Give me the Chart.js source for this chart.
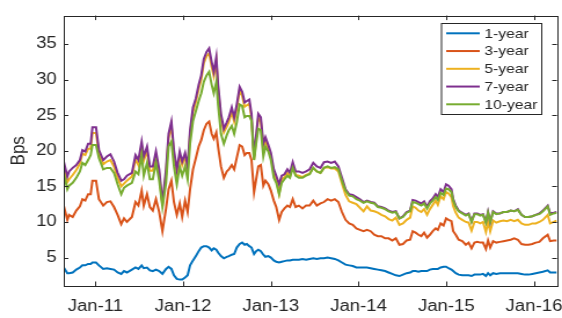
<!DOCTYPE html>
<html>
<head>
<meta charset="utf-8">
<script src="https://cdn.jsdelivr.net/npm/chart.js@4.4.1/dist/chart.umd.min.js"></script>
<style>
  html, body { margin: 0; padding: 0; background: #fff; overflow: hidden; }
  /* the reference is a little wider than tall text would suggest, so stretch horizontally */
  #myChart { display: block; transform: scaleX(1.1588); transform-origin: 0 0; }
</style>
</head>
<body>
<canvas id="myChart" width="485" height="318"></canvas>
<script>
// Dates as decimal years
var dates = [
  2010.640, 2010.681, 2010.701, 2010.742, 2010.783, 2010.824, 2010.853, 2010.885, 2010.918, 2010.947,
  2010.967, 2011.008, 2011.041, 2011.090, 2011.131, 2011.172, 2011.213, 2011.254, 2011.295, 2011.327,
  2011.360, 2011.417, 2011.458, 2011.491, 2011.528, 2011.552, 2011.589, 2011.622, 2011.655, 2011.691,
  2011.728, 2011.765, 2011.806, 2011.835, 2011.867, 2011.896, 2011.929, 2011.962, 2011.990, 2012.023,
  2012.052, 2012.080, 2012.113, 2012.146, 2012.178, 2012.207, 2012.236, 2012.268, 2012.297, 2012.326,
  2012.350, 2012.379, 2012.399, 2012.432, 2012.465, 2012.498, 2012.522, 2012.555, 2012.583, 2012.612,
  2012.645, 2012.674, 2012.702, 2012.727, 2012.755, 2012.780, 2012.809, 2012.833, 2012.858, 2012.886,
  2012.915, 2012.939, 2012.972, 2013.001, 2013.034, 2013.062, 2013.095, 2013.124, 2013.156, 2013.189,
  2013.218, 2013.250, 2013.283, 2013.320, 2013.361, 2013.402, 2013.443, 2013.484, 2013.525, 2013.566,
  2013.606, 2013.647, 2013.688, 2013.729, 2013.770, 2013.811, 2013.852, 2013.893, 2013.934, 2013.975,
  2014.016, 2014.057, 2014.097, 2014.138, 2014.179, 2014.220, 2014.261, 2014.302, 2014.343, 2014.384,
  2014.425, 2014.466, 2014.507, 2014.548, 2014.588, 2014.617, 2014.650, 2014.683, 2014.715, 2014.748,
  2014.781, 2014.813, 2014.846, 2014.879, 2014.904, 2014.936, 2014.969, 2014.998, 2015.026, 2015.059,
  2015.079, 2015.108, 2015.141, 2015.182, 2015.223, 2015.255, 2015.288, 2015.321, 2015.354, 2015.386,
  2015.419, 2015.452, 2015.476, 2015.501, 2015.534, 2015.570, 2015.611, 2015.652, 2015.693, 2015.734,
  2015.775, 2015.816, 2015.857, 2015.898, 2015.939, 2015.980, 2016.020, 2016.061, 2016.102, 2016.156,
  2016.184, 2016.225, 2016.258
];

var oneYear = [
  3.6, 2.8, 2.8, 2.9, 3.3, 3.6, 3.9, 3.9, 4.1, 4.1,
  4.3, 4.3, 3.9, 3.4, 3.5, 3.4, 3.3, 2.9, 2.7, 3.1,
  2.9, 3.3, 3.6, 3.4, 3.9, 3.5, 3.6, 3.2, 3.1, 3.3,
  3.1, 2.7, 3.4, 3.7, 3.4, 2.5, 2.0, 1.9, 1.9, 2.2,
  2.5, 3.9, 4.6, 5.2, 5.9, 6.4, 6.6, 6.6, 6.4, 6.0,
  6.3, 6.1, 5.7, 5.2, 4.9, 5.1, 5.2, 5.4, 5.5, 6.4,
  6.9, 7.1, 6.8, 6.9, 6.6, 6.4, 5.5, 5.9, 6.1, 5.9,
  5.4, 5.1, 5.2, 5.0, 4.6, 4.4, 4.3, 4.4, 4.5, 4.6,
  4.6, 4.7, 4.7, 4.7, 4.8, 4.7, 4.8, 4.9, 4.8, 4.9,
  4.9, 5.0, 4.9, 4.8, 4.6, 4.3, 4.0, 3.9, 3.8, 3.6,
  3.6, 3.6, 3.6, 3.5, 3.4, 3.3, 3.2, 3.1, 2.9, 2.7,
  2.5, 2.4, 2.6, 2.8, 2.9, 3.1, 3.1, 3.0, 3.1, 3.1,
  3.1, 3.3, 3.4, 3.4, 3.4, 3.6, 3.7, 3.7, 3.5, 3.3,
  3.1, 2.8, 2.6, 2.5, 2.5, 2.5, 2.4, 2.6, 2.6, 2.6,
  2.7, 2.4, 2.8, 2.5, 2.8, 2.7, 2.8, 2.8, 2.8, 2.8,
  2.8, 2.8, 2.7, 2.6, 2.6, 2.7, 2.8, 2.9, 3.0, 3.2,
  2.9, 2.9, 2.9
];

var threeYear = [
  12.3, 10.3, 11.0, 10.7, 11.6, 12.2, 13.2, 13.0, 13.9, 13.9,
  15.8, 15.8, 13.2, 12.3, 12.8, 12.9, 12.1, 11.0, 9.7, 10.5,
  10.0, 10.7, 12.8, 12.3, 14.4, 12.3, 13.9, 12.1, 11.6, 13.2,
  11.4, 8.7, 11.9, 14.6, 15.8, 12.8, 11.0, 12.6, 10.7, 13.0,
  11.4, 14.6, 17.4, 19.0, 20.6, 21.5, 22.9, 23.8, 24.1, 22.4,
  21.7, 22.6, 20.6, 17.8, 16.2, 17.1, 17.4, 18.0, 17.4, 19.0,
  20.8, 20.6, 19.4, 19.7, 19.7, 18.7, 14.2, 16.0, 17.8, 18.0,
  15.1, 15.8, 15.3, 14.4, 13.0, 12.1, 10.3, 11.4, 11.9, 12.3,
  12.1, 13.2, 12.1, 12.3, 11.9, 12.3, 12.3, 13.0, 12.3, 12.6,
  12.8, 13.2, 13.0, 13.2, 12.8, 11.4, 10.3, 9.8, 9.6, 9.1,
  8.9, 8.7, 8.9, 8.7, 8.2, 8.0, 8.0, 7.7, 7.7, 7.4,
  7.7, 6.8, 6.9, 7.4, 7.5, 8.7, 8.5, 8.2, 8.0, 8.5,
  7.8, 8.2, 8.7, 9.1, 8.9, 9.8, 9.5, 10.5, 10.3, 10.1,
  8.7, 8.2, 7.5, 7.3, 6.8, 7.1, 6.3, 7.1, 7.2, 7.1,
  7.1, 6.2, 7.4, 6.4, 7.3, 7.1, 7.2, 7.3, 7.4, 7.5,
  7.7, 7.5, 6.9, 6.8, 6.8, 6.9, 7.1, 7.2, 7.7, 8.2,
  7.3, 7.4, 7.4
];

var fiveYear = [
  17.8, 15.6, 16.0, 16.6, 17.3, 18.2, 19.6, 19.4, 20.3, 20.3,
  22.5, 22.5, 19.7, 18.1, 18.5, 18.7, 17.8, 16.2, 15.0, 15.4,
  15.8, 16.4, 18.8, 18.0, 20.7, 18.6, 20.0, 17.2, 17.2, 19.3,
  16.8, 12.3, 16.8, 21.8, 23.5, 19.5, 16.8, 19.3, 18.0, 19.2,
  17.3, 22.3, 25.5, 26.9, 28.7, 30.0, 32.3, 33.3, 33.7, 31.8,
  30.5, 32.6, 28.7, 24.6, 22.6, 23.4, 24.1, 25.5, 24.1, 25.9,
  28.5, 27.7, 26.2, 26.4, 26.6, 24.6, 18.8, 21.7, 24.6, 24.1,
  20.4, 21.3, 20.3, 19.2, 16.9, 16.0, 14.0, 16.0, 16.3, 16.9,
  16.4, 17.9, 16.6, 16.5, 16.3, 16.6, 16.8, 17.6, 17.1, 16.9,
  17.6, 17.7, 17.5, 17.5, 17.1, 15.4, 13.8, 12.9, 12.7, 12.5,
  12.0, 11.5, 12.2, 11.6, 11.5, 11.3, 11.0, 10.8, 10.4, 10.2,
  10.6, 9.6, 9.8, 10.3, 10.6, 12.2, 12.0, 11.6, 11.4, 11.8,
  11.0, 11.8, 12.4, 13.0, 12.4, 13.6, 13.2, 14.2, 14.0, 13.5,
  12.2, 11.3, 10.6, 10.3, 10.0, 9.9, 8.8, 10.0, 10.0, 9.8,
  10.0, 8.6, 10.0, 8.7, 10.2, 9.9, 10.1, 10.2, 10.1, 10.3,
  10.1, 10.3, 9.8, 9.6, 9.6, 9.8, 9.8, 10.0, 10.3, 11.0,
  9.8, 10.0, 10.2
];

var sevenYear = [
  18.5, 16.4, 17.1, 17.6, 18.0, 18.7, 20.1, 19.9, 21.0, 21.0,
  23.3, 23.3, 20.1, 18.7, 19.2, 19.5, 18.5, 16.9, 15.8, 16.0,
  16.5, 16.9, 19.4, 18.7, 21.3, 19.2, 20.6, 17.8, 17.8, 19.9,
  17.4, 12.6, 17.4, 22.4, 24.1, 20.1, 17.4, 19.9, 18.5, 19.7,
  17.8, 22.9, 26.1, 27.4, 29.3, 30.6, 32.9, 33.9, 34.4, 32.5,
  31.1, 33.2, 29.3, 25.2, 23.1, 24.0, 24.7, 26.1, 24.7, 26.5,
  29.0, 28.3, 26.8, 27.0, 27.2, 25.2, 19.2, 22.2, 25.2, 24.7,
  21.0, 21.9, 20.8, 19.7, 17.4, 16.5, 15.3, 16.5, 16.7, 17.4,
  16.9, 18.4, 17.1, 17.1, 16.9, 17.1, 17.4, 18.3, 17.8, 17.6,
  18.4, 18.5, 18.3, 18.5, 17.8, 16.2, 14.6, 13.9, 13.8, 13.5,
  13.2, 12.8, 13.0, 12.8, 12.7, 12.2, 12.1, 11.9, 11.6, 11.4,
  11.5, 10.5, 10.8, 11.4, 11.6, 13.1, 13.0, 12.8, 12.6, 12.9,
  12.1, 12.9, 13.3, 13.9, 13.5, 14.6, 14.2, 15.3, 15.1, 14.6,
  13.2, 12.3, 11.6, 11.3, 11.0, 11.2, 10.1, 11.2, 11.2, 11.0,
  11.1, 10.0, 11.4, 10.0, 11.5, 11.2, 11.2, 11.4, 11.4, 11.6,
  11.5, 11.8, 11.0, 10.7, 10.7, 10.8, 11.0, 11.2, 11.6, 12.3,
  11.2, 11.3, 11.4
];

var tenYear = [
  16.9, 14.6, 15.1, 15.5, 16.2, 17.1, 18.3, 18.0, 18.7, 19.4,
  20.8, 20.8, 19.0, 17.4, 17.6, 17.6, 16.9, 15.3, 13.9, 14.8,
  15.1, 15.5, 17.1, 16.7, 19.4, 16.5, 18.3, 16.0, 16.0, 18.3,
  15.8, 12.1, 15.5, 20.6, 21.3, 17.8, 15.3, 17.8, 16.5, 17.8,
  16.0, 21.0, 24.2, 25.6, 27.0, 28.1, 29.7, 30.6, 31.1, 29.3,
  28.1, 29.7, 26.5, 22.4, 21.0, 22.2, 22.9, 23.5, 22.4, 24.0,
  26.5, 26.3, 24.7, 24.9, 24.9, 24.2, 18.7, 21.0, 23.1, 22.9,
  19.2, 20.6, 19.9, 18.7, 16.2, 15.5, 13.9, 15.5, 16.0, 16.5,
  16.2, 17.6, 16.5, 16.2, 16.2, 16.5, 16.7, 17.6, 17.1, 16.9,
  17.6, 17.8, 17.6, 17.7, 17.4, 15.8, 14.4, 13.7, 13.6, 13.2,
  13.0, 12.7, 12.9, 12.7, 12.6, 12.1, 12.0, 11.8, 11.5, 11.3,
  11.4, 10.5, 10.7, 11.3, 11.5, 12.8, 12.7, 12.5, 12.3, 12.6,
  11.9, 12.6, 13.0, 13.5, 13.1, 14.1, 13.8, 14.7, 14.6, 14.2,
  13.0, 12.1, 11.5, 11.2, 10.9, 11.1, 10.0, 11.1, 11.1, 10.9,
  11.0, 9.9, 11.3, 10.0, 11.4, 11.1, 11.2, 11.4, 11.4, 11.6,
  11.5, 11.7, 11.0, 10.7, 10.7, 10.8, 11.0, 11.1, 11.5, 12.2,
  11.0, 11.2, 11.3
];

var seriesNames = ['1-year', '3-year', '5-year', '7-year', '10-year'];
var seriesColors = ['#0072BD', '#D95319', '#EDB120', '#7E2F8E', '#77AC30'];

// Axis ticks
var xTickValues = [2011, 2012, 2013, 2014, 2015, 2016];
var xTickLabels = ['Jan-11', 'Jan-12', 'Jan-13', 'Jan-14', 'Jan-15', 'Jan-16'];
var yTickValues = [5, 10, 15, 20, 25, 30, 35];

var axisColor = '#262626';
var fontFamily = "'Liberation Sans', Arial, Helvetica, sans-serif";

function toPoints(values) {
  return values.map(function (v, i) { return { x: dates[i], y: v }; });
}

var allSeries = [oneYear, threeYear, fiveYear, sevenYear, tenYear];

// MATLAB style box, inward ticks, y label and legend
const matlabAxes = {
  id: 'matlabAxes',
  afterDraw(chart) {
    const ctx = chart.ctx;
    const a = chart.chartArea;
    const xs = chart.scales.x;
    const ys = chart.scales.y;
    ctx.save();
    ctx.strokeStyle = axisColor;
    ctx.lineWidth = 1;
    ctx.strokeRect(Math.round(a.left) + 0.5, Math.round(a.top) + 0.5,
                   Math.round(a.right - a.left), Math.round(a.bottom - a.top));

    ctx.beginPath();
    xTickValues.forEach(function (v) {
      const px = Math.round(xs.getPixelForValue(v)) + 0.5;
      ctx.moveTo(px, a.bottom); ctx.lineTo(px, a.bottom - 4.5);
      ctx.moveTo(px, a.top); ctx.lineTo(px, a.top + 4.5);
    });
    yTickValues.forEach(function (v) {
      const py = Math.round(ys.getPixelForValue(v)) + 0.5;
      ctx.moveTo(a.left, py); ctx.lineTo(a.left + 4, py);
      ctx.moveTo(a.right, py); ctx.lineTo(a.right - 4, py);
    });
    ctx.stroke();

    // y axis title
    ctx.save();
    ctx.translate(16.5, (a.top + a.bottom) / 2);
    ctx.rotate(-Math.PI / 2);
    ctx.fillStyle = axisColor;
    ctx.font = '17px ' + fontFamily;
    ctx.textAlign = 'center';
    ctx.textBaseline = 'middle';
    ctx.fillText('Bps', 0, 0);
    ctx.restore();

    // legend box
    const lx = 380.5, ly = 23, lw = 86.5, lh = 91;
    ctx.fillStyle = '#fff';
    ctx.fillRect(lx, ly, lw, lh);
    ctx.strokeStyle = axisColor;
    ctx.lineWidth = 1;
    ctx.strokeRect(lx + 0.5, ly + 0.5, lw, lh);
    ctx.font = '13.5px ' + fontFamily;
    ctx.textAlign = 'left';
    ctx.textBaseline = 'middle';
    seriesNames.forEach(function (name, i) {
      const yy = 33.3 + i * 17.75;
      ctx.strokeStyle = seriesColors[i];
      ctx.lineWidth = 2;
      ctx.beginPath();
      ctx.moveTo(385, yy);
      ctx.lineTo(414, yy);
      ctx.stroke();
      ctx.fillStyle = axisColor;
      ctx.fillText(name, 418, yy + 0.5);
    });
    ctx.restore();
  }
};

Chart.register(matlabAxes);

var ctx = document.getElementById('myChart').getContext('2d');

var myChart = new Chart(ctx, {
  type: 'line',
  data: {
    datasets: allSeries.map(function (vals, i) {
      return {
        label: seriesNames[i],
        data: toPoints(vals),
        borderColor: seriesColors[i],
        backgroundColor: seriesColors[i],
        borderWidth: 2,
        pointRadius: 0,
        fill: false,
        tension: 0,
        order: 5 - i  // later series on top, like MATLAB
      };
    })
  },
  options: {
    responsive: false,
    animation: false,
    devicePixelRatio: 1,
    layout: { padding: { top: 10, right: 4.5, left: 0, bottom: 0 } },
    plugins: {
      legend: { display: false },
      tooltip: { enabled: false }
    },
    scales: {
      x: {
        type: 'linear',
        min: 2010.64,
        max: 2016.26,
        grid: { display: false, drawTicks: false },
        border: { display: false },
        afterBuildTicks: function (scale) {
          scale.ticks = xTickValues.map(function (v) { return { value: v }; });
        },
        afterFit: function (scale) {
          scale.height = 32;
          scale.paddingLeft = 0;
          scale.paddingRight = 0;
        },
        ticks: {
          autoSkip: false,
          maxRotation: 0,
          padding: 11,
          color: axisColor,
          font: { size: 16, family: fontFamily },
          callback: function (value, index) { return xTickLabels[index]; }
        }
      },
      y: {
        min: 1,
        max: 39,
        grid: { display: false, drawTicks: false },
        border: { display: false },
        afterBuildTicks: function (scale) {
          scale.ticks = yTickValues.map(function (v) { return { value: v }; });
        },
        afterFit: function (scale) { scale.width = 55; },
        ticks: {
          padding: 6,
          color: axisColor,
          font: { size: 16, family: fontFamily }
        }
      }
    }
  }
});
</script>
</body>
</html>
